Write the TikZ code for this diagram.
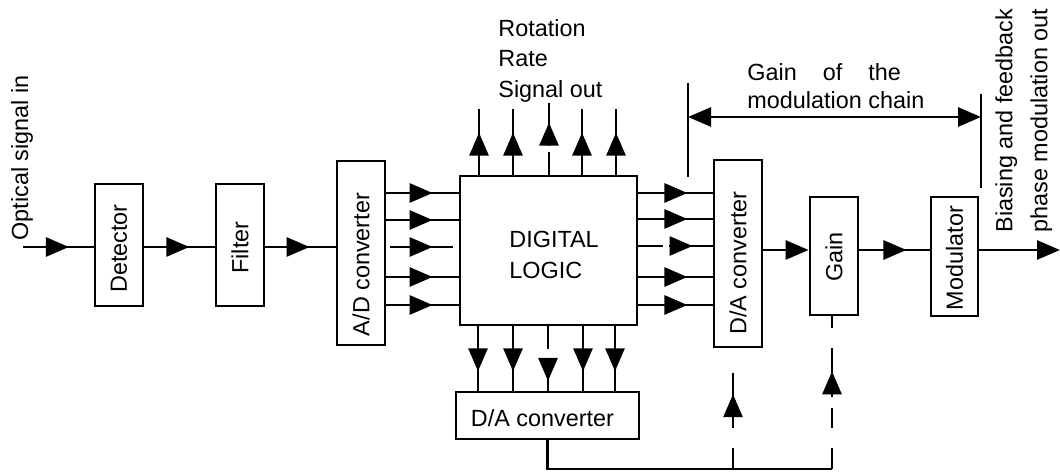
\documentclass[tikz,border=0pt]{standalone}
\usepackage{fontspec}
\setmainfont{Liberation Sans}
\usetikzlibrary{arrows.meta,decorations.markings,calc}
\tikzset{
  box/.style={draw, line width=1.4pt, inner sep=0pt, fill=white},
  wire/.style={line width=1.4pt},
  tri/.tip={Triangle[length=11.5pt,width=9.5pt]},
  midarr/.style={postaction={decorate}, decoration={markings, mark=at position #1 with {\arrow{tri}}}},
  txt/.style={inner sep=0pt},
}
\begin{document}
\begin{tikzpicture}[x=0.5pt,y=-0.5pt,font=\fontsize{11.7}{15.25}\selectfont]
\useasboundingbox (0,0) rectangle (1060,474);

% boxes
\node[box, minimum width=24pt, minimum height=61pt] (det) at (119,245) {};
\node[box, minimum width=24pt, minimum height=61pt] (filt) at (240,245) {};
\node[box, minimum width=24pt, minimum height=92pt] (adc) at (361,253) {};
\node[box, minimum width=88.5pt, minimum height=74.5pt] (dl) at (548.5,250.5) {};
\node[box, minimum width=91.5pt, minimum height=23.5pt] (dab) at (547.5,415.5) {};
\node[box, minimum width=24pt, minimum height=93.5pt] (dar) at (738,253.5) {};
\node[box, minimum width=24pt, minimum height=59pt] (gain) at (834,256) {};
\node[box, minimum width=23.5pt, minimum height=59.5pt] (mod) at (954.5,256.5) {};

% box texts
\node[txt, rotate=90] (dett) at (119,248.5) {Detector};
\node[txt, rotate=90] (filtt) at (240,247.5) {Filter};
\node[txt, rotate=90] (adct) at (361,264.5) {A/D converter};
\node[txt, align=left, anchor=north west] (dlt) at (509,231) {DIGITAL\\LOGIC};
\node[txt] (dabt) at (542.5,418.5) {D/A converter};
\node[txt, rotate=90] (dart) at (738,263) {D/A converter};
\node[txt, rotate=90] (gaint) at (834,257) {Gain};
\node[txt, rotate=90] (modt) at (954.5,258) {Modulator};

% free labels
\node[txt, rotate=90, anchor=west] (optt) at (22,241) {Optical signal in};
\node[txt, align=left, anchor=north west] (rott) at (498,19) {Rotation\\Rate\\Signal out};
\node[txt, align=left, anchor=north west, font=\fontsize{11.7}{14}\selectfont] (gaintxt) at (747,63) {Gain\hspace{13pt}of\hspace{13pt}the\\modulation chain};
\node[txt, rotate=90, align=left, anchor=north west, font=\fontsize{11.7}{17.5}\selectfont] (biast) at (995,233) {Biasing and feedback\\phase modulation out};

% main chain
\coordinate (in) at (23,247);
\coordinate (out) at (1060,250);
\draw[wire, midarr=0.65] (in) -- (det.west |- in);
\draw[wire, midarr=0.64] (det.east |- in) -- (filt.west |- in);
\draw[wire, midarr=0.63] (filt.east |- in) -- (adc.west |- in);
\draw[wire, -{tri}] (dar.east |- out) -- (gain.west |- out);
\draw[wire, midarr=0.67] (gain.east |- out) -- (mod.west |- out);
\draw[wire, -{tri}] (mod.east |- out) -- (out);

% A/D -> digital logic
\foreach \y [count=\i] in {193,220,247,277,305} \coordinate (l\i) at (0,\y);
\foreach \i in {1,2,4,5} \draw[wire, midarr=0.64] (adc.east |- l\i) -- (dl.west |- l\i);
\draw[wire, midarr=0.64, dash pattern=on 0pt off 2pt on 31.5pt off 20pt] (adc.east |- l3) -- (dl.west |- l3);

% digital logic -> D/A converter (right)
\foreach \y [count=\i] in {193,219,246,277,305} \coordinate (r\i) at (0,\y);
\foreach \i in {1,2,4,5} \draw[wire, midarr=0.66] (dl.east |- r\i) -- (dar.west |- r\i);
\draw[wire, midarr=0.73, dash pattern=on 12.5pt off 3pt on 22pt off 1.5pt] (dl.east |- r3) -- (dar.west |- r3);

% digital logic -> rotation rate out (top)
\foreach \x [count=\i] in {479,513,549,582,616} \coordinate (t\i) at (\x,109);
\coordinate (t3) at (549,103);
\foreach \i in {1,2,4,5} \draw[wire, midarr=0.64] (dl.north -| t\i) -- (t\i);
\draw[wire, midarr=0.726, dash pattern=on 11.5pt off 3pt on 30pt] (dl.north -| t3) -- (t3);

% digital logic -> D/A converter (bottom)
\foreach \x [count=\i] in {478,513,548,583,615} \coordinate (b\i) at (\x,0);
\foreach \i in {1,2,4,5} \draw[wire, midarr=0.70] (dl.south -| b\i) -- (dab.north -| b\i);
\draw[wire, midarr=0.85, dash pattern=on 11.5pt off 6pt on 16pt] (dl.south -| b3) -- (dab.north -| b3);

% feedback
\coordinate (fbL) at (547.5,469);
\coordinate (fbM) at (733,469);
\coordinate (fbR) at (832,469);
\draw[wire] (dab.south) -- (fbL) -- (fbR);
\draw[wire, midarr=0.62, dash pattern=on 10.5pt off 10pt on 27.5pt off 13pt] (fbM) -- (fbM |- dar.south);
\draw[wire, midarr=0.64, dash pattern=on 10.5pt off 10pt on 10pt off 5.5pt on 24.5pt off 10pt on 6.5pt] (fbR) -- (fbR |- gain.south);

% gain of the modulation chain
\coordinate (gl1) at (688,83);
\coordinate (gl2) at (688,177);
\coordinate (gr1) at (981,94);
\coordinate (gr2) at (981,188);
\coordinate (gm) at (0,117);
\draw[wire] (gl1) -- (gl2);
\draw[wire] (gr1) -- (gr2);
\draw[wire, {tri}-{tri}] (gl1 |- gm) -- (gr1 |- gm);
\end{tikzpicture}
\end{document}
